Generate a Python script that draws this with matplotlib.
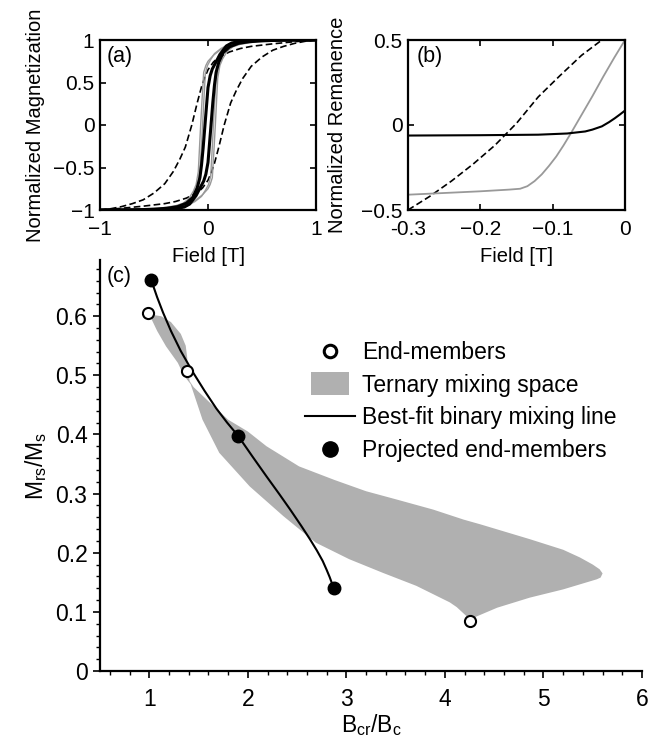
import matplotlib
matplotlib.use('Agg')
import matplotlib.pyplot as plt
from matplotlib.patches import Rectangle
from matplotlib.lines import Line2D
from matplotlib.legend_handler import HandlerPatch
from matplotlib.ticker import MultipleLocator
import numpy as np

plt.rcParams['font.family'] = ['Liberation Sans', 'DejaVu Sans']
plt.rcParams['axes.linewidth'] = 1.6

# (a) descending branches of the hysteresis loops, field [T] vs M/Ms
dash_H = [-1, -0.9, -0.8, -0.7, -0.6, -0.5, -0.4, -0.32, -0.26, -0.21, -0.15, -0.1, -0.06, -0.03,
          0, 0.05, 0.1, 0.2, 0.3, 0.4, 0.5, 0.6, 0.8, 1]
dash_M = [-1, -0.985, -0.96, -0.925, -0.88, -0.8, -0.69, -0.545, -0.4, -0.26, 0.0, 0.26, 0.45, 0.56,
          0.65, 0.74, 0.8, 0.86, 0.9, 0.925, 0.94, 0.955, 0.98, 1]
gray1_H = [-1, -0.7, -0.45, -0.3, -0.23, -0.18, -0.136, -0.11, -0.09, -0.08, -0.068, -0.055, -0.04,
           -0.02, 0, 0.05, 0.11, 0.2, 0.3, 0.5, 1]
gray1_M = [-1, -0.995, -0.98, -0.95, -0.92, -0.87, -0.78, -0.7, -0.55, -0.3, 0.0, 0.3, 0.62,
           0.7, 0.75, 0.82, 0.88, 0.95, 0.98, 0.995, 1]
gray2_H = [-1, -0.7, -0.45, -0.3, -0.22, -0.16, -0.12, -0.095, -0.075, -0.062, -0.05, -0.038, -0.025,
           -0.005, 0.02, 0.06, 0.12, 0.2, 0.3, 0.5, 1]
gray2_M = [-1, -0.995, -0.985, -0.96, -0.93, -0.88, -0.8, -0.7, -0.52, -0.28, 0.0, 0.3, 0.6,
           0.7, 0.76, 0.84, 0.9, 0.955, 0.98, 0.995, 1]
black_H = [-1, -0.7, -0.5, -0.38, -0.28, -0.2, -0.14, -0.1, -0.075, -0.06, -0.045, -0.028, -0.012,
           0, 0.02, 0.04, 0.065, 0.09, 0.11, 0.14, 0.17, 0.22, 0.3, 0.5, 1]
black_M = [-1, -1, -0.99, -0.98, -0.96, -0.92, -0.85, -0.74, -0.62, -0.47, -0.27, 0.0, 0.25,
           0.44, 0.58, 0.66, 0.72, 0.78, 0.83, 0.88, 0.93, 0.965, 0.985, 0.997, 1]

# (b) remanence curves
remd_H = [-0.3, -0.27, -0.24, -0.21, -0.18, -0.15, -0.12, -0.09, -0.06, -0.032]
remd_M = [-0.5, -0.42, -0.33, -0.23, -0.12, 0.01, 0.165, 0.29, 0.41, 0.5]
remg_H = [-0.3, -0.25, -0.2, -0.16, -0.145, -0.135, -0.125, -0.115, -0.105, -0.095, -0.085,
          -0.075, -0.06, -0.045, -0.03, -0.015, 0]
remg_M = [-0.41, -0.40, -0.39, -0.38, -0.375, -0.36, -0.33, -0.29, -0.24, -0.185, -0.12,
          -0.05, 0.06, 0.17, 0.285, 0.395, 0.5]
remk_H = [-0.3, -0.2, -0.12, -0.08, -0.055, -0.045, -0.032, -0.022, -0.014, -0.007, 0]
remk_M = [-0.062, -0.06, -0.057, -0.05, -0.038, -0.027, -0.008, 0.017, 0.04, 0.062, 0.085]

# (c) Day plot
end_x = [0.99, 1.38, 4.25]
end_y = [0.606, 0.507, 0.085]
proj_x = [1.02, 1.90, 2.87]
proj_y = [0.661, 0.398, 0.141]
fit_x = [1.02, 1.08, 1.14, 1.22, 1.32, 1.44, 1.56, 1.68, 1.79, 1.90, 2.05, 2.19, 2.32, 2.43,
         2.54, 2.63, 2.70, 2.76, 2.80, 2.83, 2.85, 2.87]
fit_y = [0.661, 0.632, 0.606, 0.575, 0.541, 0.506, 0.474, 0.444, 0.42, 0.398, 0.362, 0.329, 0.299, 0.273,
         0.246, 0.223, 0.204, 0.186, 0.171, 0.159, 0.15, 0.141]
mix_x = [1.0, 1.12, 1.22, 1.32, 1.37, 1.385, 1.39, 1.41, 1.45, 1.62, 1.80, 2.0, 2.19, 2.52, 2.88,
         3.20, 3.51, 3.88, 4.19, 4.36, 4.86, 5.2, 5.37, 5.50, 5.57, 5.60, 5.58, 5.54, 5.20, 4.86,
         4.53, 4.29, 4.25, 4.12, 4.05, 3.71, 3.37, 3.03, 2.69, 2.36, 2.02, 1.71, 1.54, 1.47, 1.42,
         1.35, 1.29, 1.17, 1.08]
mix_y = [0.603, 0.60, 0.59, 0.57, 0.55, 0.53, 0.51, 0.49, 0.48, 0.453, 0.425, 0.405, 0.38, 0.346, 0.323,
         0.304, 0.29, 0.273, 0.256, 0.248, 0.223, 0.205, 0.192, 0.18, 0.172, 0.165, 0.158, 0.155, 0.138, 0.124,
         0.107, 0.09, 0.088, 0.108, 0.116, 0.144, 0.166, 0.189, 0.217, 0.262, 0.312, 0.369, 0.425, 0.46, 0.485,
         0.50, 0.521, 0.549, 0.575]

GRAY = '#999999'
FILL = '#b0b0b0'

fig = plt.figure(figsize=(6.55, 7.4), dpi=100)
W, H = 655.0, 740.0
ax_c = fig.add_axes([100 / W, 1 - 671 / H, 542 / W, 411 / H])
ax_a = fig.add_axes([100 / W, 1 - 210 / H, 216 / W, 170 / H])
ax_b = fig.add_axes([408 / W, 1 - 210 / H, 217 / W, 170 / H])
ax_c.set_facecolor('none')


def loop(ax, h, m, **kw):
    h = np.asarray(h)
    m = np.asarray(m)
    ax.plot(h, m, **kw)
    ax.plot(-h, -m, **kw)


loop(ax_a, dash_H, dash_M, color='k', lw=1.2, ls=(0, (4, 2)))
loop(ax_a, gray1_H, gray1_M, color=GRAY, lw=1.0)
loop(ax_a, gray2_H, gray2_M, color=GRAY, lw=1.0)
loop(ax_a, black_H, black_M, color='k', lw=2.2)
ax_a.set_xlim(-1, 1)
ax_a.set_ylim(-1, 1)
ax_a.set_xticks([-1, 0, 1])
ax_a.set_xticklabels(['\u22121', '0', '1'])
ax_a.set_yticks([-1, -0.5, 0, 0.5, 1])
ax_a.set_yticklabels(['\u22121', '\u22120.5', '0', '0.5', '1'])
ax_a.set_xlabel('Field [T]', fontsize=14.5)
ax_a.set_ylabel('Normalized Magnetization', fontsize=14.5)
ax_a.text(0.03, 0.965, '(a)', transform=ax_a.transAxes, fontsize=15.5, va='top', ha='left')

ax_b.plot(remd_H, remd_M, color='k', lw=1.2, ls=(0, (4, 2)))
ax_b.plot(remg_H, remg_M, color=GRAY, lw=1.3)
ax_b.plot(remk_H, remk_M, color='k', lw=1.5)
ax_b.set_xlim(-0.3, 0)
ax_b.set_ylim(-0.5, 0.5)
ax_b.set_xticks([-0.3, -0.2, -0.1, 0])
ax_b.set_xticklabels(['-0.3', '\u22120.2', '\u22120.1', '0'])
ax_b.set_yticks([-0.5, 0, 0.5])
ax_b.set_yticklabels(['\u22120.5', '0', '0.5'])
ax_b.set_xlabel('Field [T]', fontsize=14.5)
ax_b.set_ylabel('Normalized Remanence', fontsize=14.5)
ax_b.text(0.04, 0.965, '(b)', transform=ax_b.transAxes, fontsize=15.5, va='top', ha='left')

for ax in (ax_a, ax_b):
    ax.tick_params(direction='in', top=True, right=True, length=4, width=1.2, labelsize=15)
    ax.tick_params(axis='x', pad=7.5)
    ax.tick_params(axis='y', pad=4)
    ax.xaxis.set_label_coords(0.5, -0.215)
ax_a.yaxis.set_label_coords(-0.255, 0.5)
ax_b.yaxis.set_label_coords(-0.28, 0.5)

# (c)
ax_c.fill(mix_x, mix_y, color=FILL, lw=0, zorder=1)
ax_c.plot(fit_x, fit_y, color='k', lw=1.5, zorder=2)
ax_c.plot(proj_x, proj_y, 'o', color='k', ms=9, zorder=3)
ax_c.plot(end_x, end_y, 'o', mfc='white', mec='k', mew=1.5, ms=8, zorder=4)
ax_c.set_xlim(0.5, 6)
ax_c.set_ylim(0, 0.695)
ax_c.xaxis.set_major_locator(MultipleLocator(1))
ax_c.xaxis.set_minor_locator(MultipleLocator(0.2))
ax_c.yaxis.set_major_locator(MultipleLocator(0.1))
ax_c.yaxis.set_minor_locator(MultipleLocator(0.02))
ax_c.set_yticks([0, 0.1, 0.2, 0.3, 0.4, 0.5, 0.6])
ax_c.set_yticklabels(['0', '0.1', '0.2', '0.3', '0.4', '0.5', '0.6'])
ax_c.spines['top'].set_visible(False)
ax_c.spines['right'].set_visible(False)
ax_c.tick_params(which='major', direction='out', length=5, width=1.2, labelsize=16.5)
ax_c.tick_params(axis='x', which='major', pad=7)
ax_c.tick_params(axis='y', which='major', pad=4)
ax_c.tick_params(which='minor', direction='out', length=3, width=1.0)
ax_c.set_xlabel('B$_\\mathregular{cr}$/B$_\\mathregular{c}$', fontsize=16.5)
ax_c.set_ylabel('M$_\\mathregular{rs}$/M$_\\mathregular{s}$', fontsize=16.5)
ax_c.xaxis.set_label_coords(0.5, -0.1)
ax_c.yaxis.set_label_coords(-0.095, 0.5)
ax_c.text(0.013, 0.985, '(c)', transform=ax_c.transAxes, fontsize=15.5, va='top', ha='left')


def narrow_patch(legend, orig_handle, xdescent, ydescent, width, height, fontsize):
    return Rectangle((xdescent + 0.12 * width, ydescent - 0.2 * height), 0.76 * width, 1.4 * height)


h_end = Line2D([], [], ls='none', marker='o', mfc='white', mec='k', mew=2.2, ms=9)
h_mix = Rectangle((0, 0), 1, 1, color=FILL, lw=0)
h_fit = Line2D([], [], color='k', lw=1.5)
h_proj = Line2D([], [], ls='none', marker='o', color='k', ms=11)
ax_c.legend([h_end, h_mix, h_fit, h_proj],
            ['End-members', 'Ternary mixing space', 'Best-fit binary mixing line', 'Projected end-members'],
            loc='upper left', bbox_to_anchor=(0.378, 0.803), frameon=False, fontsize=16.5,
            handlelength=2.2, handletextpad=0.3, labelspacing=0.42, borderpad=0, borderaxespad=0,
            handler_map={Rectangle: HandlerPatch(patch_func=narrow_patch)})

fig.savefig('out.png', dpi=100)
